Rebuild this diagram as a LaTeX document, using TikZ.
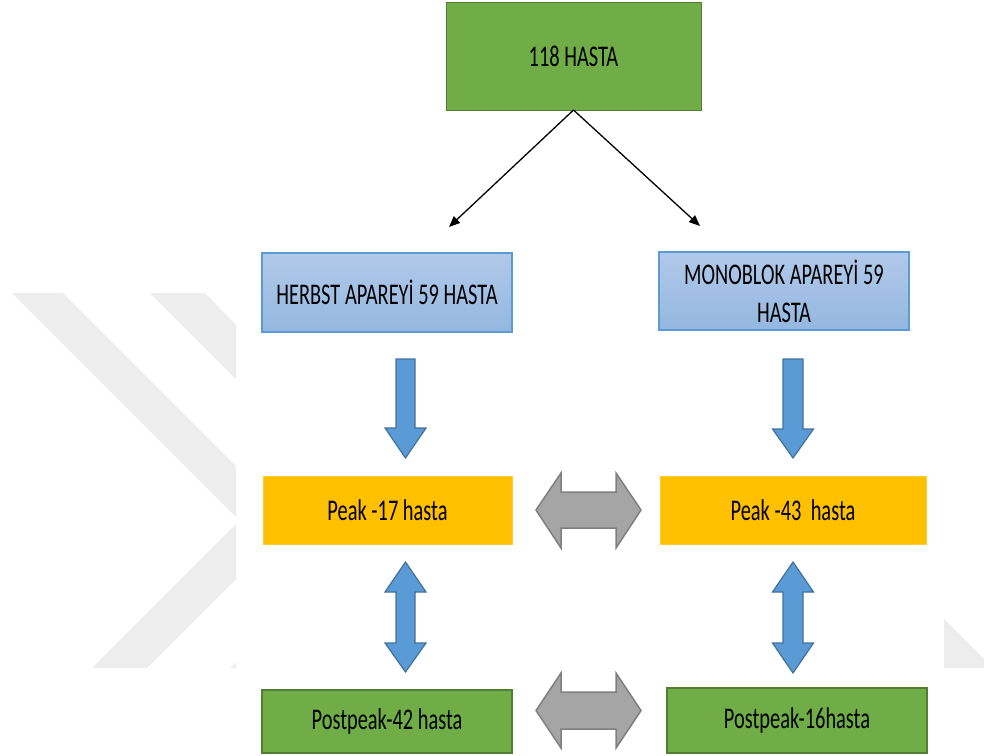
\documentclass[tikz,border=0pt]{standalone}
\usepackage{fontspec}
\setmainfont{Carlito}[FakeStretch=0.68]
\usetikzlibrary{arrows.meta,shadings}

\definecolor{boxgreen}{HTML}{70AD47}
\definecolor{greenedge}{HTML}{507E32}
\definecolor{bluetop}{HTML}{B1C9E9}
\definecolor{bluebot}{HTML}{94B7E0}
\definecolor{blueedge}{HTML}{5B9BD5}
\definecolor{peakfill}{HTML}{FFC000}
\definecolor{peakedge}{HTML}{FFCB33}
\definecolor{arrowblue}{HTML}{5B9BD5}
\definecolor{arrowblueedge}{HTML}{41719C}
\definecolor{arrowgray}{HTML}{A5A5A5}
\definecolor{arrowgrayedge}{HTML}{7F7F7F}
\definecolor{wmgray}{HTML}{EDEDED}

\tikzset{
  boxbase/.style={rectangle, inner sep=0pt, outer sep=0pt, align=center,
    text=black, font=\fontsize{30}{38}\selectfont},
  greenbox/.style={boxbase, fill=boxgreen, draw=greenedge, line width=1pt},
  postbox/.style={boxbase, fill=boxgreen, draw=greenedge, line width=2pt},
  bluebox/.style={boxbase, top color=bluetop, bottom color=bluebot,
    draw=blueedge, line width=1.5pt},
  peakbox/.style={boxbase, fill=peakfill, draw=peakedge, line width=0.8pt},
  splitarrow/.style={-{Triangle[length=11pt,width=9pt]}, line width=1.3pt, black},
  bluearrow/.style={fill=arrowblue, draw=arrowblueedge, line width=1.2pt, line join=miter},
  grayarrow/.style={fill=arrowgray, draw=arrowgrayedge, line width=1.5pt, line join=miter}
}

\begin{document}
\begin{tikzpicture}[x=1pt, y=-1pt]
\useasboundingbox (0,0) rectangle (984,755);

% faint background chevrons, visible only at the sides
\begin{scope}
  \clip (0,0) rectangle (236,755) (944,0) rectangle (984,755);
  \fill[wmgray] (12,293) -- (63,293) -- (292.5,522.5) -- (147,668)
    -- (92,668) -- (239.5,520.5) -- cycle;
  \fill[wmgray] (150,293) -- (205,293) -- (430.5,522.5) -- (285,668)
    -- (230,668) -- (377.5,520.5) -- cycle;
  \fill[wmgray] (944,619) -- (993,668) -- (944,668) -- cycle;
\end{scope}

% boxes
\node[greenbox, minimum width=255pt, minimum height=108pt] (top) at (573.5,56) {118 HASTA};
\node[bluebox, minimum width=250pt, minimum height=79pt] (herbst) at (387,292.5) {HERBST APAREYİ 59 HASTA};
\node[bluebox, minimum width=250pt, minimum height=78pt] (mono) at (784,291) {MONOBLOK APAREYİ 59\\HASTA};
\node[peakbox, minimum width=249pt, minimum height=68pt] (peakL) at (387.5,510) {Peak -17 hasta};
\node[peakbox, minimum width=266pt, minimum height=68pt] (peakR) at (793,510) {Peak -43\ \ hasta};
\node[postbox, minimum width=250pt, minimum height=63pt] (postL) at (387,721.5) {Postpeak-42 hasta};
\node[postbox, minimum width=260pt, minimum height=65pt] (postR) at (797,720.5) {Postpeak-16hasta};

% split arrows from the top box
\coordinate (leftend) at (449,227);
\coordinate (rightend) at (700,226);
\draw[splitarrow] (top.south) -- (leftend);
\draw[splitarrow] (top.south) -- (rightend);

% blue down arrows
\draw[bluearrow] (396,359) -- (415,359) -- (415,428) -- (426,428) -- (405.5,458)
  -- (385,428) -- (396,428) -- cycle;
\draw[bluearrow] (783,359) -- (803,359) -- (803,429) -- (813.5,429) -- (793,458)
  -- (772.5,429) -- (783,429) -- cycle;

% blue up-down arrows
\draw[bluearrow] (405.5,562) -- (426,592) -- (415,592) -- (415,643) -- (426,643)
  -- (405.5,672) -- (385,643) -- (396,643) -- (396,592) -- (385,592) -- cycle;
\draw[bluearrow] (793,562) -- (813.5,592) -- (803,592) -- (803,643) -- (813.5,643)
  -- (793,673) -- (772.5,643) -- (783,643) -- (783,592) -- (772.5,592) -- cycle;

% gray left-right arrows
\draw[grayarrow] (536,510) -- (561,473) -- (561,492) -- (616,492) -- (616,473)
  -- (641,510) -- (616,548) -- (616,528) -- (561,528) -- (561,548) -- cycle;
\draw[grayarrow] (536,710.5) -- (561,673) -- (561,692) -- (616,692) -- (616,673)
  -- (641,710.5) -- (616,748) -- (616,729) -- (561,729) -- (561,748) -- cycle;
\end{tikzpicture}
\end{document}
